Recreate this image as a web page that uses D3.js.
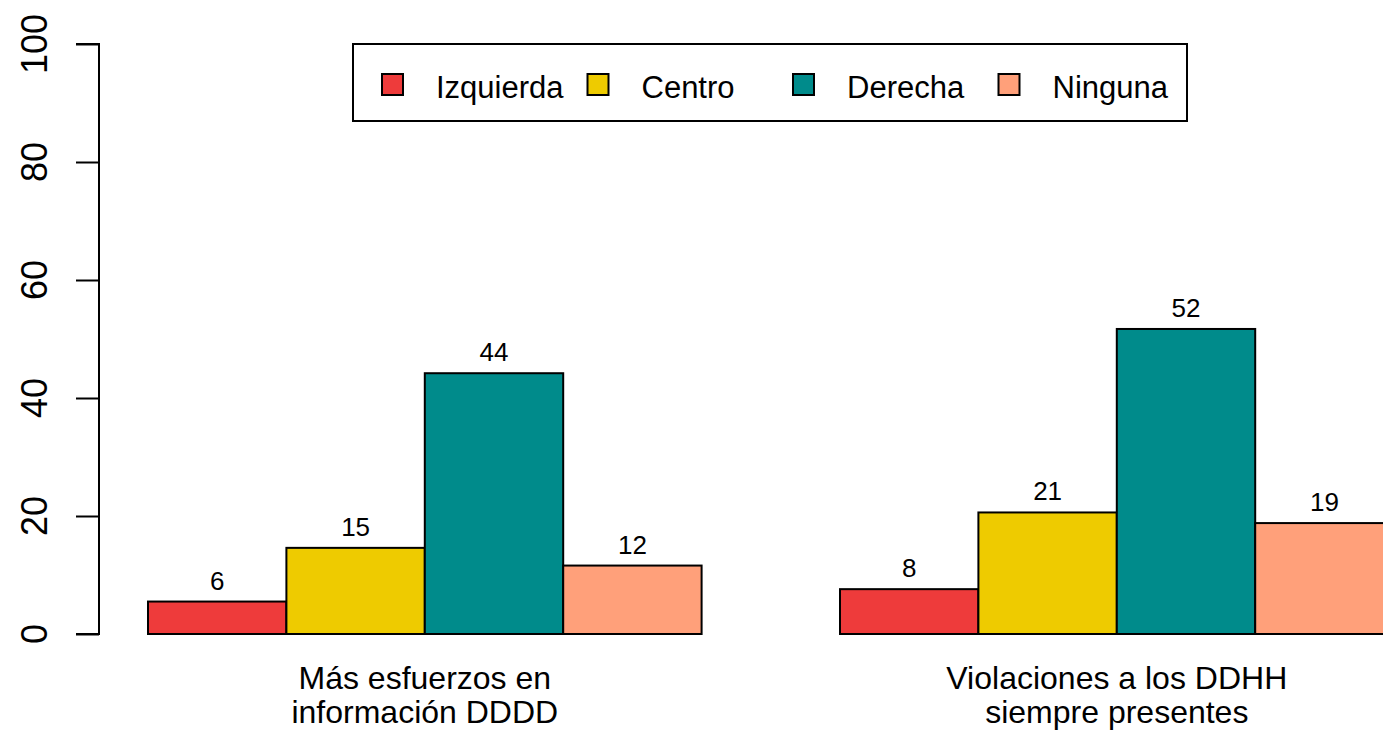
<!DOCTYPE html>
<html>
<head>
<meta charset="utf-8">
<script src="https://cdn.jsdelivr.net/npm/d3@7"></script>
<style>
  body { margin: 0; background: #ffffff; overflow: hidden; }
  svg { display: block; font-family: "Liberation Sans", Arial, sans-serif; }
</style>
</head>
<body>
<div id="chart"></div>
<script>
// data
const groups = [["Más esfuerzos en", "información DDDD"], ["Violaciones a los DDHH", "siempre presentes"]];
const series = ["Izquierda", "Centro", "Derecha", "Ninguna"];
const colors = ["#EE3B3B", "#EECB00", "#008B8B", "#FFA07A"];
const values = [
  [5.5, 14.6, 44.2, 11.6],
  [7.6, 20.6, 51.7, 18.8],
];
const yTicks = [0, 20, 40, 60, 80, 100];

const width = 1383;
const height = 730;
const barW = 138.4;

const svg = d3
  .select("#chart")
  .append("svg")
  .attr("width", width)
  .attr("height", height);

svg.append("rect").attr("width", width).attr("height", height).attr("fill", "#fff");

const y = d3.scaleLinear().domain([0, 100]).range([634, 44]);

// groups: 4 bars each, one bar of space between them
const x0 = d3
  .scaleBand()
  .domain(d3.range(groups.length))
  .range([148, 148 + 9 * barW])
  .paddingInner(0.2)
  .paddingOuter(0);

const x1 = d3.scaleBand().domain(d3.range(series.length)).range([0, x0.bandwidth()]);

// y axis
const yAxis = svg
  .append("g")
  .attr("transform", "translate(99,0)")
  .call(d3.axisLeft(y).tickValues(yTicks).tickSize(23).tickPadding(0).tickFormat(""));
yAxis.select(".domain").attr("stroke", "#000").attr("stroke-width", 2).attr("d", `M-23,${y(100)}H0V${y(0)}H-23`);
yAxis.selectAll(".tick line").attr("stroke", "#000").attr("stroke-width", 2);

svg
  .append("g")
  .selectAll("text")
  .data(yTicks)
  .join("text")
  .attr("transform", (d) => `translate(47,${y(d)}) rotate(-90)`)
  .attr("text-anchor", "middle")
  .style("font-size", "36px")
  .attr("fill", "#000")
  .text((d) => d);

// bars
const g = svg
  .append("g")
  .selectAll("g")
  .data(values)
  .join("g")
  .attr("transform", (d, i) => `translate(${x0(i)},0)`);

g.selectAll("rect")
  .data((d) => d)
  .join("rect")
  .attr("x", (d, i) => x1(i))
  .attr("y", (d) => y(d))
  .attr("width", x1.bandwidth())
  .attr("height", (d) => y(0) - y(d))
  .attr("fill", (d, i) => colors[i])
  .attr("stroke", "#000")
  .attr("stroke-width", 2);

g.selectAll("text")
  .data((d) => d)
  .join("text")
  .attr("x", (d, i) => x1(i) + x1.bandwidth() / 2)
  .attr("y", (d) => y(d) - 12)
  .attr("text-anchor", "middle")
  .style("font-size", "26px")
  .attr("fill", "#000")
  .text((d) => Math.round(d));

// category names, two lines each
const names = svg
  .append("g")
  .selectAll("text")
  .data(groups)
  .join("text")
  .attr("text-anchor", "middle")
  .style("font-size", "32px")
  .attr("fill", "#000");

names
  .selectAll("tspan")
  .data((d, i) => d.map((t) => ({ t, i })))
  .join("tspan")
  .attr("x", (d) => x0(d.i) + x0.bandwidth() / 2)
  .attr("y", (d, j) => 689 + j * 34)
  .text((d) => d.t);

// legend
const legend = svg.append("g");
legend
  .append("rect")
  .attr("x", 353)
  .attr("y", 44)
  .attr("width", 834)
  .attr("height", 77)
  .attr("fill", "#fff")
  .attr("stroke", "#000")
  .attr("stroke-width", 2);

const item = legend
  .selectAll("g")
  .data(series)
  .join("g")
  .attr("transform", (d, i) => `translate(${382 + i * 205.5},0)`);

item
  .append("rect")
  .attr("x", 0)
  .attr("y", 74)
  .attr("width", 21)
  .attr("height", 21)
  .attr("fill", (d, i) => colors[i])
  .attr("stroke", "#000")
  .attr("stroke-width", 2);

item
  .append("text")
  .attr("x", 54)
  .attr("y", 98)
  .style("font-size", "31px")
  .attr("fill", "#000")
  .text((d) => d);
</script>
</body>
</html>
